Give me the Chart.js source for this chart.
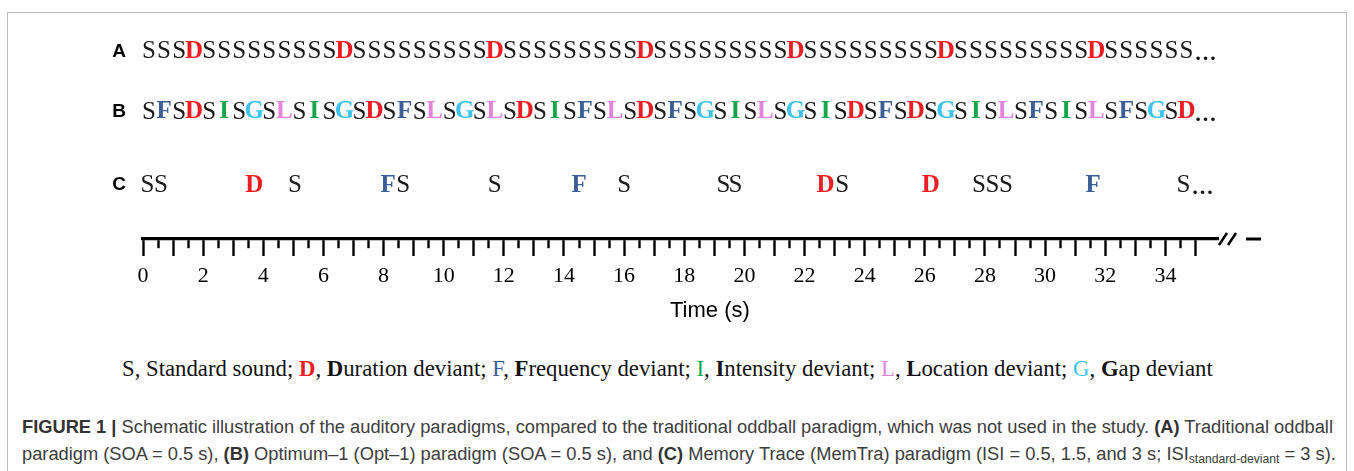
<!DOCTYPE html>
<html>
<head>
<meta charset="utf-8">
<script src="https://cdn.jsdelivr.net/npm/chart.js@4.4.1/dist/chart.umd.min.js"></script>
<style>
  html, body { margin: 0; padding: 0; background: #fff; }
  body { width: 1354px; height: 471px; position: relative; overflow: hidden; }
  #frame { position: absolute; left: 7px; top: 12px; width: 1340px; height: 490px; border: 1px solid #bcbcbc; box-sizing: border-box; }
  #wrap { position: absolute; left: 0; top: 0; width: 1354px; height: 330px; }
  #xtitle { position: absolute; left: 670px; top: 296px; line-height: 28px; font-family: "Liberation Sans", Arial, sans-serif; font-size: 22px; color: #000; white-space: nowrap; }
  #legend { position: absolute; left: 122px; top: 354px; line-height: 30px; font-family: "Liberation Serif", serif; font-size: 21px; color: #111; white-space: nowrap; }
  #legend b { font-weight: bold; }
  #caption { position: absolute; left: 22px; top: 414px; font-family: "Liberation Sans", Arial, sans-serif; font-size: 18px; line-height: 27px; color: #3d3d3d; white-space: nowrap; }
  #caption .cl { display: block; width: max-content; transform-origin: 0 50%; }
  #caption b { color: #333; }
  #caption sub { font-size: 12px; vertical-align: -3px; line-height: 0; }
</style>
</head>
<body>
<div id="frame"></div>
<div id="wrap"><canvas id="chart" width="1354" height="330"></canvas></div>
<div id="xtitle">Time (s)</div>
<div id="legend">S, Standard sound; <b style="color:#ee1d23">D</b>, <b>D</b>uration deviant; <span style="color:#3b5f95">F</span>, <b>F</b>requency deviant; <span style="color:#16a64a">I</span>, <b>I</b>ntensity deviant; <span style="color:#e385dc">L</span>, <b>L</b>ocation deviant; <span style="color:#3ec3ef">G</span>, <b>G</b>ap deviant</div>
<div id="caption">
  <div class="cl" id="cap1"><b>FIGURE 1 |</b> Schematic illustration of the auditory paradigms, compared to the traditional oddball paradigm, which was not used in the study. <b>(A)</b> Traditional oddball</div>
  <div class="cl" id="cap2">paradigm (SOA = 0.5 s), <b>(B)</b> Optimum–1 (Opt–1) paradigm (SOA = 0.5 s), and <b>(C)</b> Memory Trace (MemTra) paradigm (ISI = 0.5, 1.5, and 3 s; ISI<sub>standard‑deviant</sub> = 3 s).</div>
</div>
<script>
// stimulus sequences, one letter per sound
const SOA = 0.5; // s, rows A and B
const seqA = "SSSD" + "SSSSSSSSSD" + "SSSSSSSSSD" + "SSSSSSSSSD" + "SSSSSSSSSD" + "SSSSSSSSSD" + "SSSSSSSSSD" + "SSSSSS";
const seqB = "SFSDSISGSLSISGSDSFSLSGSLSDSISFSLSDSFSGSISLSGSISDSFSDSGSISLSFSISLSFSGSD";
// row C: irregular timing, letters and times (s)
const seqC = ["S", "S", "D", "S", "F", "S", "S", "F", "S", "S", "S", "D", "S", "D", "S", "S", "S", "F", "S"];
const timesC = [0.15, 0.6, 3.7, 5.05, 8.15, 8.65, 11.7, 14.5, 16.0, 19.3, 19.7, 22.7, 23.25, 26.2, 27.8, 28.25, 28.7, 31.6, 34.6];

const ROW_NAMES = ["A", "B", "C"];
const TICK_END = 35;

// layout only
const ROW_Y = { A: 8.9, B: 6.03, C: 2.56 };
const SLOT_CENTER = 0.2;
const COLORS = { S: "#1a1a1a", D: "#ee1d23", F: "#3b5f95", I: "#16a64a", L: "#e385dc", G: "#3ec3ef" };

const toPoints = (letters, times, row) => letters.map((ch, i) => ({ x: times[i], y: ROW_Y[row] }));
const slotTimes = (seq) => seq.split("").map((ch, i) => i * SOA + SLOT_CENTER);

const letterPlugin = {
  id: "letters",
  afterDatasetsDraw(chart) {
    const ctx = chart.ctx;
    chart.data.datasets.forEach((ds, di) => {
      const meta = chart.getDatasetMeta(di);
      ctx.save();
      ctx.textAlign = "center";
      ctx.textBaseline = "middle";
      meta.data.forEach((pt, i) => {
        const ch = ds.letters[i];
        ctx.font = (ch === "S" ? "" : "bold ") + "25px 'Liberation Serif'";
        ctx.fillStyle = COLORS[ch];
        ctx.fillText(ch, pt.x, pt.y);
      });
      const last = meta.data[meta.data.length - 1];
      ctx.font = "bold 22px 'Liberation Serif'";
      ctx.fillStyle = "#111";
      ctx.textAlign = "left";
      ctx.fillText("…", last.x + 8, last.y + 3);
      ctx.restore();
    });
  }
};

// axis break "//" and the continuing dash
const breakPlugin = {
  id: "axisBreak",
  afterDraw(chart) {
    const { ctx, chartArea } = chart;
    const r = chartArea.right, y = chartArea.bottom;
    ctx.save();
    ctx.strokeStyle = "#000";
    ctx.lineWidth = 2.5;
    ctx.beginPath();
    ctx.moveTo(r + 1, y + 6); ctx.lineTo(r + 9, y - 6);
    ctx.moveTo(r + 10, y + 6); ctx.lineTo(r + 18, y - 6);
    ctx.stroke();
    ctx.lineWidth = 3;
    ctx.beginPath();
    ctx.moveTo(r + 28, y); ctx.lineTo(r + 43, y);
    ctx.stroke();
    ctx.restore();
  }
};

const rows = [
  { row: "A", letters: seqA.split(""), times: slotTimes(seqA) },
  { row: "B", letters: seqB.split(""), times: slotTimes(seqB) },
  { row: "C", letters: seqC, times: timesC }
];

new Chart(document.getElementById("chart"), {
  type: "scatter",
  data: {
    datasets: rows.map(r => ({
      label: r.row,
      letters: r.letters,
      data: toPoints(r.letters, r.times, r.row),
      pointRadius: 0,
      pointHoverRadius: 0,
      showLine: false
    }))
  },
  options: {
    responsive: false,
    animation: false,
    events: [],
    layout: { padding: { top: 20, left: 0, right: 136, bottom: 0 } },
    plugins: { legend: { display: false }, tooltip: { enabled: false } },
    scales: {
      x: {
        type: "linear",
        min: 0,
        max: 35.75,
        afterFit(scale) { scale.height = 91; },
        afterBuildTicks(scale) { scale.ticks = scale.ticks.filter(t => t.value <= TICK_END); },
        ticks: {
          stepSize: 0.5,
          includeBounds: false,
          autoSkip: false,
          maxRotation: 0,
          color: "#000",
          padding: 7,
          font: { family: "Liberation Serif", size: 22 },
          callback: v => (v % 2 === 0 ? String(v) : "")
        },
        grid: {
          drawOnChartArea: false,
          tickLength: 17,
          tickWidth: 2.4,
          tickColor: "#000",
          tickBorderDash: c => (c.tick && c.tick.value % 1 !== 0 ? [8, 40] : [])
        },
        border: { display: true, width: 3.2, color: "#000" },
        title: { display: false }
      },
      y: {
        type: "linear",
        min: 0,
        max: 10,
        afterFit(scale) { scale.width = 143; },
        afterBuildTicks(scale) { scale.ticks = ROW_NAMES.map(n => ({ value: ROW_Y[n] })); },
        ticks: {
          color: "#000",
          padding: 17,
          font: { family: "Liberation Sans", size: 19, weight: "bold" },
          callback: v => ROW_NAMES.find(n => ROW_Y[n] === v)
        },
        grid: { display: false, drawTicks: false },
        border: { display: false }
      }
    }
  },
  plugins: [letterPlugin, breakPlugin]
});

// fit legend and caption widths to the figure
const legend = document.getElementById("legend");
const lw = legend.getBoundingClientRect().width;
legend.style.fontSize = (21 * 1091 / lw).toFixed(2) + "px";

const cap1 = document.getElementById("cap1");
const cap2 = document.getElementById("cap2");
const s = 1311 / cap1.getBoundingClientRect().width;
cap1.style.transform = "scaleX(" + s + ")";
cap2.style.transform = "scaleX(" + s + ")";
</script>
</body>
</html>
